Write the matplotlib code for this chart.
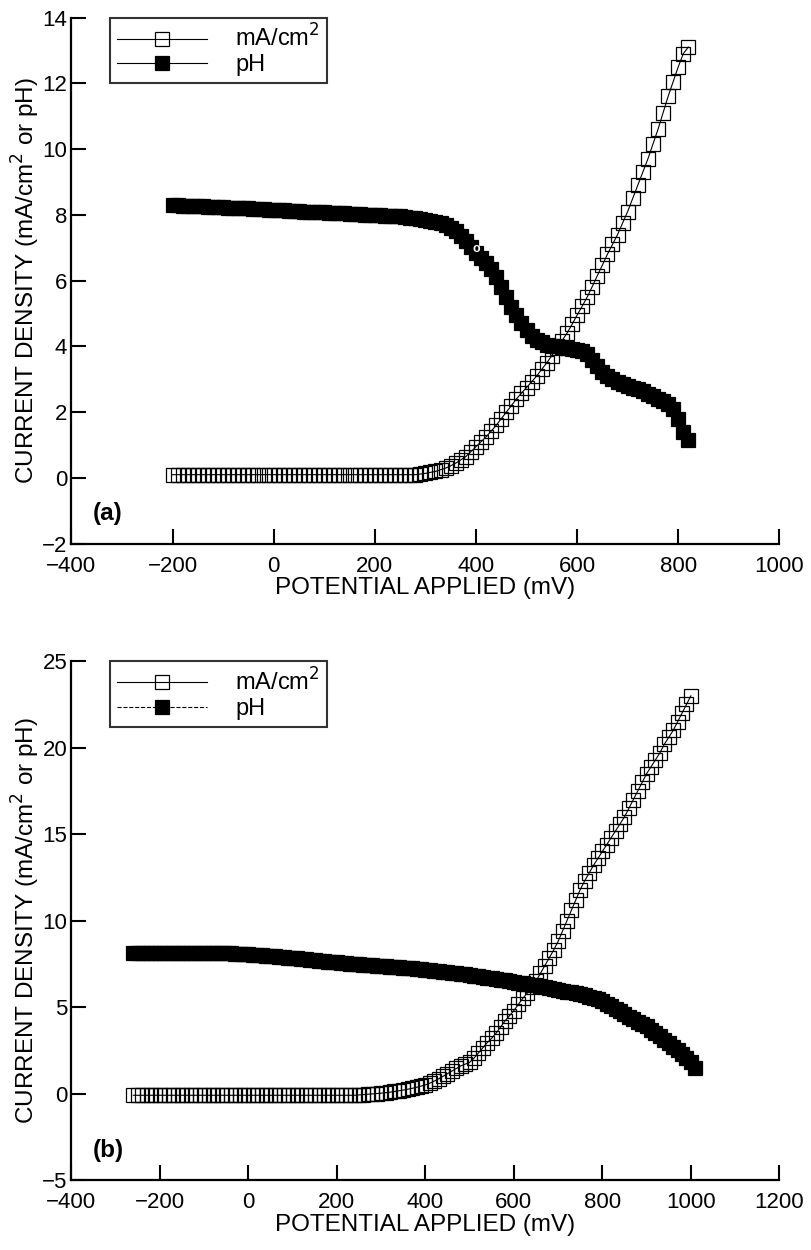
import numpy as np
import matplotlib
matplotlib.use('Agg')
import matplotlib.pyplot as plt

plt.rcParams['font.family'] = ['Liberation Sans', 'DejaVu Sans']

# ---- panel (a) ----
x_a = np.arange(-200, 830, 10)
ma_a = [0.10] * 49 + [
    0.12, 0.14, 0.17, 0.20, 0.25, 0.30, 0.37, 0.45, 0.55, 0.65,
    0.80, 0.95, 1.10, 1.25, 1.42, 1.60, 1.80, 2.00, 2.20, 2.40,
    2.58, 2.75, 2.92, 3.10, 3.30, 3.50, 3.72, 3.95, 4.17, 4.40,
    4.67, 4.95, 5.22, 5.50, 5.82, 6.15, 6.47, 6.80, 7.10, 7.40,
    7.75, 8.10, 8.50, 8.90, 9.30, 9.70, 10.15, 10.60, 11.10, 11.60,
    12.05, 12.50, 12.90, 13.10]
ph_a = [
    8.30, 8.30, 8.28, 8.28, 8.27, 8.27, 8.26, 8.25, 8.25, 8.24,
    8.23, 8.22, 8.22, 8.21, 8.20, 8.20, 8.19, 8.18, 8.17, 8.16,
    8.15, 8.14, 8.14, 8.13, 8.12, 8.11, 8.10, 8.10, 8.09, 8.08,
    8.08, 8.07, 8.06, 8.05, 8.05, 8.04, 8.03, 8.02, 8.01, 8.00,
    8.00, 7.99, 7.98, 7.97, 7.96, 7.95, 7.93, 7.91, 7.89, 7.87,
    7.85, 7.82, 7.78, 7.74, 7.68, 7.60, 7.50, 7.36, 7.20, 7.03,
    6.85, 6.70, 6.55, 6.35, 6.10, 5.80, 5.50, 5.20, 4.95, 4.70,
    4.50, 4.33, 4.20, 4.12, 4.05, 4.02, 4.00, 3.97, 3.95, 3.92,
    3.90, 3.85, 3.78, 3.60, 3.40, 3.23, 3.10, 3.00, 2.92, 2.86,
    2.80, 2.75, 2.70, 2.63, 2.55, 2.48, 2.40, 2.33, 2.25, 2.10,
    1.80, 1.40, 1.15]

# ---- panel (b) ----
x_b_ma = np.arange(-260, 1010, 10)
ma_b = [-0.10] * 51 + [
    -0.08, -0.06, -0.04, -0.02, 0.00, 0.02, 0.05, 0.08, 0.12, 0.16,
    0.20, 0.25, 0.30, 0.36, 0.43, 0.50, 0.60, 0.72, 0.85, 1.00,
    1.15, 1.30, 1.45, 1.60, 1.70, 1.80, 2.05, 2.35, 2.65, 2.95,
    3.20, 3.50, 3.85, 4.20, 4.50, 4.80, 5.15, 5.50, 5.80, 6.15,
    6.50, 6.95, 7.40, 7.85, 8.30, 8.80, 9.40, 10.00, 10.60, 11.20,
    11.80, 12.30, 12.75, 13.20, 13.60, 14.00, 14.40, 14.80, 15.20, 15.60,
    16.00, 16.50, 17.00, 17.50, 18.00, 18.50, 18.90, 19.30, 19.70, 20.20,
    20.60, 21.00, 21.50, 22.00, 22.50, 23.00]
x_b_ph = np.arange(-260, 1020, 10)
ph_b = [8.10] * 17 + [
    8.10, 8.10, 8.10, 8.10, 8.10, 8.10, 8.09, 8.08, 8.07, 8.06,
    8.03, 8.01, 7.99, 7.97, 7.95, 7.93, 7.91, 7.89, 7.86, 7.84,
    7.82, 7.79, 7.76, 7.73, 7.70, 7.67, 7.65, 7.62, 7.60, 7.58,
    7.56, 7.54, 7.52, 7.50, 7.48, 7.46, 7.44, 7.42, 7.40, 7.38,
    7.36, 7.34, 7.32, 7.30, 7.28, 7.26, 7.24, 7.22, 7.20, 7.17,
    7.14, 7.11, 7.08, 7.05, 7.02, 6.99, 6.96, 6.93, 6.90, 6.86,
    6.82, 6.78, 6.74, 6.70, 6.66, 6.62, 6.58, 6.54, 6.50, 6.46,
    6.42, 6.38, 6.34, 6.29, 6.25, 6.20, 6.15, 6.10, 6.05, 6.00,
    5.95, 5.90, 5.85, 5.80, 5.75, 5.68, 5.60, 5.52, 5.44, 5.35,
    5.20, 5.05, 4.90, 4.75, 4.60, 4.45, 4.30, 4.15, 4.00, 3.90,
    3.70, 3.50, 3.30, 3.10, 2.90, 2.70, 2.50, 2.30, 2.05, 1.80,
    1.50]

xticks_a = np.arange(-400, 1001, 200)
yticks_a = np.arange(-2, 15, 2)
xticks_b = np.arange(-400, 1201, 200)
yticks_b = np.arange(-5, 26, 5)

FS_TICK = 16
FS_LABEL = 17.5
FS_LEG = 17


def style_axes(ax, xticks, yticks, tag):
    ax.spines['top'].set_visible(False)
    ax.spines['right'].set_visible(False)
    for s in ('left', 'bottom'):
        ax.spines[s].set_linewidth(1.6)
    ax.set_xticks(xticks)
    ax.set_yticks(yticks)
    ax.set_xlim(xticks[0], xticks[-1])
    ax.set_ylim(yticks[0], yticks[-1])
    ax.tick_params(direction='in', length=11, width=1.5, labelsize=FS_TICK)
    ax.tick_params(axis='x', pad=9)
    ax.tick_params(axis='y', pad=3)
    ax.set_xticklabels([str(v).replace('-', '\u2212') for v in xticks])
    ax.set_yticklabels([str(v).replace('-', '\u2212') for v in yticks])
    ax.set_xlabel('POTENTIAL APPLIED (mV)', fontsize=FS_LABEL, labelpad=0)
    ax.set_ylabel('CURRENT DENSITY (mA/cm$^2$ or pH)', fontsize=FS_LABEL, labelpad=0)
    ax.text(0.03, 0.035, tag, transform=ax.transAxes, fontsize=FS_LABEL,
            fontweight='bold', ha='left', va='bottom')


fig = plt.figure(figsize=(8.11, 12.5), dpi=100)
ax1 = fig.add_axes([0.088, 0.565, 0.873, 0.421])
ax2 = fig.add_axes([0.088, 0.056, 0.873, 0.415])

ax1.plot(x_a, ma_a, '-', color='black', lw=0.8, marker='s', ms=10,
         mfc='none', mec='black', mew=0.9, label='mA/cm$^2$')
ax1.plot(x_a, ph_a, '-', color='black', lw=0.8, marker='s', ms=10,
         mfc='black', mec='black', mew=0.9, label='pH')
# white speck printed inside the pH band in the original figure
ax1.text(400, 6.95, 'o', color='white', fontsize=9, fontweight='bold',
         ha='center', va='center')

ax2.plot(x_b_ma, ma_b, '-', color='black', lw=0.8, marker='s', ms=10,
         mfc='none', mec='black', mew=0.9, label='mA/cm$^2$')
ax2.plot(x_b_ph, ph_b, '--', color='black', lw=0.8, marker='s', ms=10,
         mfc='black', mec='black', mew=0.9, label='pH')

style_axes(ax1, xticks_a, yticks_a, '(a)')
style_axes(ax2, xticks_b, yticks_b, '(b)')

for ax in (ax1, ax2):
    leg = ax.legend(loc='upper left', bbox_to_anchor=(0.055, 1.0), fontsize=FS_LEG,
                    frameon=True, fancybox=False, handlelength=3.8,
                    borderpad=0.3, labelspacing=0.1, handletextpad=1.2,
                    borderaxespad=0.0)
    leg.get_frame().set_edgecolor('black')
    leg.get_frame().set_linewidth(1.5)

fig.savefig('out.png', dpi=100)
